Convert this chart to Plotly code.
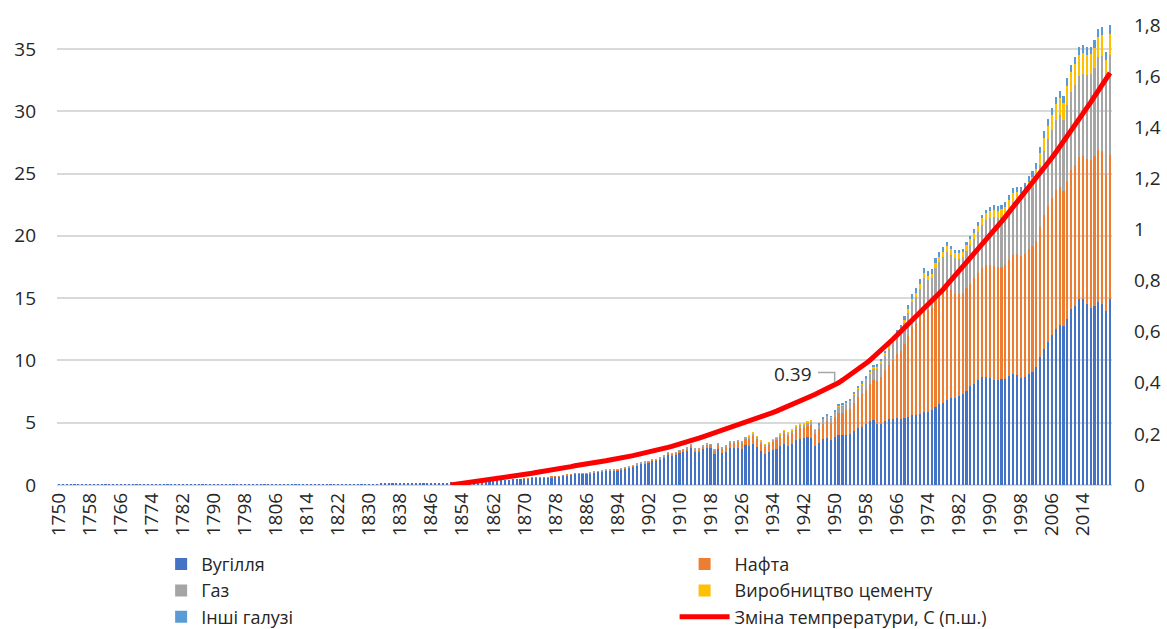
import plotly.graph_objects as go

# ---------------- data ----------------
first_year = 1750
last_year = 2021
years = [str(y) for y in range(first_year, last_year + 1)]
tick_years = [str(y) for y in range(1750, 2022, 8)]

# Coal, Gt CO2, 1750-2021
coal = [
    0.0094, 0.0094, 0.0094, 0.0094, 0.0094, 0.0094, 0.0094, 0.0094, 0.0094, 0.0094,
    0.010, 0.010, 0.011, 0.011, 0.011, 0.011, 0.011, 0.012, 0.012, 0.012,
    0.012, 0.013, 0.013, 0.013, 0.014, 0.014, 0.014, 0.015, 0.015, 0.015,
    0.016, 0.016, 0.017, 0.017, 0.018, 0.018, 0.019, 0.019, 0.020, 0.020,
    0.021, 0.022, 0.022, 0.023, 0.024, 0.025, 0.026, 0.027, 0.028, 0.029,
    0.030, 0.031, 0.032, 0.033, 0.034, 0.035, 0.036, 0.037, 0.038, 0.039,
    0.040, 0.041, 0.042, 0.043, 0.044, 0.045, 0.046, 0.047, 0.049, 0.050,
    0.051, 0.053, 0.055, 0.057, 0.059, 0.061, 0.063, 0.065, 0.068, 0.070,
    0.073, 0.076, 0.080, 0.083, 0.087, 0.091, 0.095, 0.100, 0.104, 0.110,
    0.115, 0.121, 0.127, 0.133, 0.140, 0.148, 0.156, 0.165, 0.175, 0.185,
    0.197, 0.205, 0.220, 0.235, 0.255, 0.265, 0.280, 0.285, 0.290, 0.310,
    0.330, 0.345, 0.350, 0.370, 0.395, 0.415, 0.425, 0.455, 0.465, 0.480,
    0.500, 0.535, 0.580, 0.620, 0.600, 0.630, 0.630, 0.640, 0.650, 0.690,
    0.760, 0.800, 0.840, 0.890, 0.900, 0.900, 0.910, 0.950, 1.020, 1.050,
    1.120, 1.160, 1.160, 1.150, 1.190, 1.270, 1.320, 1.380, 1.470, 1.600,
    1.700, 1.760, 1.790, 1.940, 1.960, 2.060, 2.200, 2.480, 2.380, 2.450,
    2.600, 2.660, 2.780, 3.000, 2.660, 2.660, 2.860, 3.000, 2.970, 2.500,
    2.900, 2.560, 2.680, 2.960, 2.960, 2.980, 2.900, 3.180, 3.160, 3.320,
    3.060, 2.760, 2.490, 2.640, 2.820, 2.920, 3.160, 3.320, 3.120, 3.320,
    3.580, 3.700, 3.750, 3.830, 3.780, 3.100, 3.400, 3.700, 3.800, 3.600,
    3.880, 4.040, 3.980, 4.040, 4.060, 4.330, 4.560, 4.690, 4.900, 5.120,
    5.200, 4.880, 4.920, 5.140, 5.270, 5.330, 5.400, 5.280, 5.360, 5.480,
    5.640, 5.580, 5.660, 5.860, 5.860, 6.050, 6.280, 6.470, 6.590, 6.860,
    6.990, 6.980, 7.150, 7.300, 7.560, 7.980, 8.130, 8.420, 8.630, 8.700,
    8.550, 8.450, 8.400, 8.470, 8.510, 8.720, 8.920, 8.820, 8.620, 8.680,
    8.920, 9.100, 9.450, 10.240, 10.890, 11.510, 12.030, 12.560, 12.850, 12.730,
    13.330, 14.090, 14.400, 14.900, 14.940, 14.540, 14.240, 14.380, 14.700, 14.510,
    14.000, 14.900,
]

# Oil, from 1870
oil_start = 1870
oil = [
    0.002, 0.002, 0.003, 0.003, 0.004, 0.004, 0.005, 0.006, 0.007, 0.008,
    0.010, 0.011, 0.012, 0.013, 0.015, 0.016, 0.018, 0.020, 0.022, 0.024,
    0.027, 0.030, 0.032, 0.035, 0.038, 0.040, 0.045, 0.050, 0.055, 0.060,
    0.065, 0.070, 0.075, 0.080, 0.090, 0.095, 0.100, 0.110, 0.120, 0.130,
    0.140, 0.150, 0.160, 0.170, 0.180, 0.190, 0.210, 0.230, 0.240, 0.260,
    0.340, 0.360, 0.400, 0.450, 0.460, 0.480, 0.490, 0.540, 0.580, 0.640,
    0.620, 0.600, 0.570, 0.600, 0.630, 0.670, 0.710, 0.790, 0.790, 0.840,
    0.860, 0.880, 0.840, 0.900, 1.000, 1.000, 1.080, 1.230, 1.350, 1.380,
    1.550, 1.740, 1.830, 1.940, 2.050, 2.280, 2.470, 2.610, 2.740, 2.950,
    3.200, 3.450, 3.750, 4.050, 4.400, 4.720, 5.100, 5.480, 5.950, 6.500,
    7.020, 7.380, 7.870, 8.450, 8.220, 8.150, 8.650, 8.870, 9.080, 9.100,
    8.680, 8.380, 8.170, 8.100, 8.230, 8.190, 8.450, 8.560, 8.800, 8.970,
    9.080, 9.120, 9.100, 9.040, 9.170, 9.330, 9.530, 9.700, 9.780, 9.890,
    10.040, 10.120, 10.160, 10.430, 10.780, 10.920, 11.010, 11.130, 11.040, 10.850,
    11.100, 11.190, 11.320, 11.420, 11.480, 11.640, 11.840, 12.000, 12.200, 12.310,
    10.950, 11.610,
]

# Gas, from 1885
gas_start = 1885
gas = [
    0.010, 0.013, 0.016, 0.019, 0.020,
    0.021, 0.022, 0.022, 0.023, 0.024, 0.024, 0.025, 0.026, 0.027, 0.028,
    0.030, 0.031, 0.033, 0.035, 0.036, 0.038, 0.040, 0.045, 0.046, 0.048,
    0.050, 0.052, 0.055, 0.058, 0.060, 0.063, 0.070, 0.075, 0.075, 0.073,
    0.080, 0.075, 0.085, 0.100, 0.110, 0.115, 0.125, 0.140, 0.155, 0.180,
    0.180, 0.160, 0.150, 0.150, 0.170, 0.185, 0.200, 0.230, 0.230, 0.240,
    0.260, 0.280, 0.300, 0.320, 0.340, 0.340, 0.340, 0.370, 0.400, 0.420,
    0.430, 0.490, 0.530, 0.550, 0.590, 0.640, 0.680, 0.740, 0.790, 0.860,
    0.920, 1.000, 1.080, 1.170, 1.270, 1.360, 1.460, 1.560, 1.690, 1.840,
    2.000, 2.130, 2.240, 2.340, 2.370, 2.390, 2.500, 2.570, 2.650, 2.780,
    2.810, 2.830, 2.850, 2.870, 3.030, 3.120, 3.190, 3.340, 3.460, 3.600,
    3.800, 3.900, 3.920, 3.980, 4.000, 4.100, 4.280, 4.250, 4.330, 4.450,
    4.600, 4.700, 4.850, 5.000, 5.150, 5.300, 5.450, 5.600, 5.800, 5.700,
    6.100, 6.250, 6.400, 6.500, 6.550, 6.700, 6.900, 7.100, 7.450, 7.650,
    7.500, 8.000,
]

# Cement production, from 1928
cement_start = 1928
cement = [
    0.040, 0.045,
    0.044, 0.040, 0.033, 0.035, 0.040, 0.045, 0.050, 0.055, 0.055, 0.060,
    0.060, 0.060, 0.060, 0.055, 0.050, 0.040, 0.055, 0.060, 0.065, 0.070,
    0.075, 0.085, 0.090, 0.100, 0.105, 0.115, 0.125, 0.135, 0.140, 0.160,
    0.170, 0.175, 0.185, 0.195, 0.210, 0.220, 0.240, 0.245, 0.260, 0.275,
    0.295, 0.310, 0.330, 0.350, 0.350, 0.350, 0.375, 0.400, 0.420, 0.430,
    0.430, 0.430, 0.430, 0.440, 0.450, 0.460, 0.470, 0.490, 0.510, 0.530,
    0.560, 0.580, 0.610, 0.630, 0.670, 0.700, 0.710, 0.730, 0.730, 0.750,
    0.770, 0.820, 0.870, 0.960, 1.040, 1.120, 1.230, 1.310, 1.330, 1.390,
    1.520, 1.630, 1.650, 1.700, 1.720, 1.620, 1.580, 1.560, 1.590, 1.620,
    1.650, 1.700,
]

# Other industries, from 1946
other_start = 1946
other = [
    0.03, 0.04, 0.05, 0.06,
    0.07, 0.08, 0.09, 0.10, 0.11, 0.12, 0.13, 0.14, 0.15, 0.16,
    0.17, 0.18, 0.19, 0.20, 0.22, 0.24, 0.26, 0.28, 0.30, 0.33,
    0.36, 0.38, 0.40, 0.43, 0.40, 0.36, 0.38, 0.38, 0.36, 0.36,
    0.30, 0.27, 0.26, 0.26, 0.27, 0.26, 0.27, 0.26, 0.26, 0.26,
    0.36, 0.40, 0.40, 0.38, 0.38, 0.40, 0.42, 0.42, 0.43, 0.44,
    0.45, 0.46, 0.48, 0.50, 0.52, 0.53, 0.55, 0.56, 0.57, 0.56,
    0.58, 0.58, 0.60, 0.60, 0.61, 0.62, 0.63, 0.64, 0.66, 0.68,
    0.64, 0.70,
]

# Temperature change, C (right axis), from 1851
temp_start = 1851
temp = [
    0.000, 0.002, 0.004, 0.006, 0.008, 0.010, 0.012, 0.014, 0.016,
    0.018, 0.020, 0.022, 0.024, 0.027, 0.029, 0.031, 0.034, 0.036, 0.039,
    0.041, 0.044, 0.046, 0.049, 0.051, 0.054, 0.057, 0.059, 0.062, 0.065,
    0.067, 0.070, 0.072, 0.075, 0.077, 0.080, 0.082, 0.085, 0.087, 0.090,
    0.092, 0.095, 0.098, 0.100, 0.103, 0.106, 0.109, 0.112, 0.115, 0.118,
    0.121, 0.124, 0.128, 0.131, 0.135, 0.139, 0.143, 0.147, 0.151, 0.155,
    0.160, 0.164, 0.169, 0.173, 0.178, 0.183, 0.188, 0.193, 0.198, 0.203,
    0.208, 0.213, 0.218, 0.223, 0.228, 0.233, 0.238, 0.243, 0.249, 0.254,
    0.260, 0.265, 0.271, 0.277, 0.283, 0.289, 0.295, 0.301, 0.307, 0.313,
    0.320, 0.327, 0.334, 0.341, 0.348, 0.355, 0.362, 0.369, 0.376, 0.383,
    0.390, 0.400, 0.410, 0.420, 0.430, 0.440, 0.451, 0.463, 0.475, 0.487,
    0.500, 0.513, 0.527, 0.541, 0.555, 0.570, 0.585, 0.600, 0.615, 0.630,
    0.645, 0.660, 0.674, 0.689, 0.703, 0.718, 0.732, 0.749, 0.766, 0.784,
    0.801, 0.818, 0.836, 0.853, 0.870, 0.888, 0.905, 0.922, 0.940, 0.957,
    0.974, 0.992, 1.011, 1.030, 1.049, 1.068, 1.087, 1.106, 1.125, 1.143,
    1.162, 1.180, 1.199, 1.217, 1.238, 1.259, 1.280, 1.301, 1.322, 1.343,
    1.365, 1.386, 1.408, 1.430, 1.452, 1.474, 1.497, 1.520, 1.543, 1.566,
    1.589, 1.612,
]

label_year = 1950
right_ticks = [0, 0.2, 0.4, 0.6, 0.8, 1.0, 1.2, 1.4, 1.6, 1.8]
right_tick_text = ["0", "0,2", "0,4", "0,6", "0,8", "1", "1,2", "1,4", "1,6", "1,8"]
left_ticks = [0, 5, 10, 15, 20, 25, 30, 35]

names = ["Вугілля", "Нафта", "Газ", "Виробництво цементу", "Інші галузі"]
colors = ["#4472C4", "#ED7D31", "#A5A5A5", "#FFC000", "#5B9BD5"]
legend_col = ["legend", "legend2", "legend", "legend2", "legend"]
temp_name = "Зміна темпрератури, С (п.ш.)"


def xs_from(start, n):
    i = start - first_year
    return years[i:i + n]


FONT = "Open Sans"
fig = go.Figure()
series = [(first_year, coal), (oil_start, oil), (gas_start, gas),
          (cement_start, cement), (other_start, other)]
for (start, vals), name, col, lg in zip(series, names, colors, legend_col):
    fig.add_trace(go.Bar(x=xs_from(start, len(vals)), y=vals, name=name,
                         marker=dict(color=col, line=dict(width=0)),
                         yaxis="y", legend=lg))

fig.add_trace(go.Scatter(x=xs_from(temp_start, len(temp)), y=temp, name=temp_name,
                         mode="lines", line=dict(color="#FF0000", width=5),
                         yaxis="y2", legend="legend2"))

# data label for 1950
lab_val = temp[label_year - temp_start]
idx = label_year - first_year
fig.add_annotation(x=idx, y=lab_val, xref="x", yref="y2",
                   text=f"{lab_val:.2f}", showarrow=False,
                   xanchor="right", yanchor="middle", xshift=-21, yshift=11,
                   font=dict(family=FONT, size=19, color="#262626"))
fig.add_shape(type="path", xref="x", yref="y2",
              path=f"M {idx-4.3},{lab_val+0.05} L {idx},{lab_val+0.05} L {idx},{lab_val+0.012}",
              line=dict(color="#A6A6A6", width=1.5))

H = 629
top_px, bottom_px = 10, 485
leg_common = dict(orientation="v", yanchor="top", y=-0.128, xanchor="left",
                  traceorder="normal", font=dict(size=18), tracegroupgap=0,
                  bgcolor="rgba(0,0,0,0)")
fig.update_layout(
    width=1167, height=H,
    margin=dict(l=57, r=55, t=top_px, b=H - bottom_px, autoexpand=False),
    plot_bgcolor="white", paper_bgcolor="white",
    barmode="stack", bargap=0.45,
    font=dict(family=FONT, size=19, color="#262626"),
    xaxis=dict(type="category", categoryorder="array", categoryarray=years,
               tickmode="array", tickvals=tick_years, ticktext=tick_years,
               tickangle=-90, showgrid=False, showline=False, ticks="",
               tickfont=dict(size=19), range=[-0.5, len(years) - 0.5],
               ticklabelstandoff=3),
    yaxis=dict(range=[0, (bottom_px - top_px) / 12.46], tickvals=left_ticks,
               showgrid=True, gridcolor="#D9D9D9", gridwidth=2,
               zeroline=True, zerolinecolor="#D9D9D9", zerolinewidth=2,
               showline=False, ticks="", ticklabelstandoff=20),
    yaxis2=dict(range=[0, (bottom_px - top_px) / 255.6], overlaying="y", side="right",
                tickvals=right_ticks, ticktext=right_tick_text,
                showgrid=False, zeroline=False, showline=False, ticks="",
                ticklabelstandoff=21),
    legend=dict(x=0.0987, itemwidth=30, **leg_common),
    legend2=dict(x=0.5854, itemwidth=50, **leg_common),
    showlegend=True,
)

fig.write_html("out.html", post_script="document.body.style.margin='0';",
               config={"displayModeBar": False})
